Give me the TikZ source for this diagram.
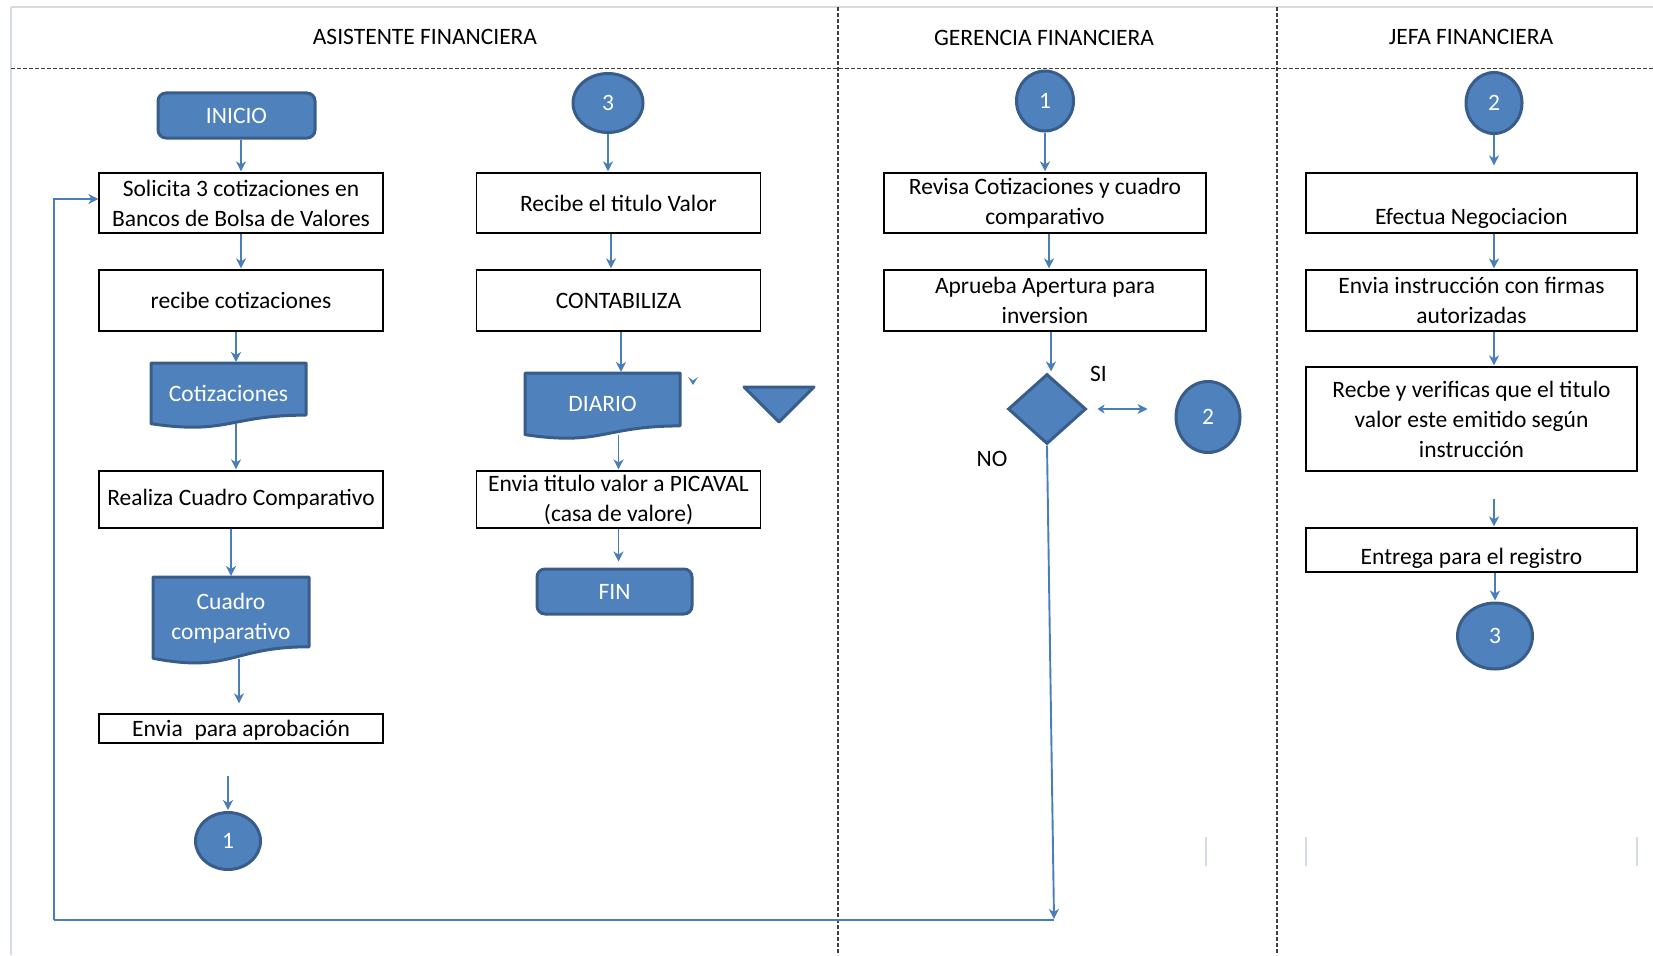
\documentclass[tikz,border=0pt]{standalone}
\usepackage{fontspec}
\setmainfont{Carlito}
\usetikzlibrary{arrows.meta,shapes.geometric,calc}

\definecolor{shapeblue}{HTML}{4F81BD}
\definecolor{shapeedge}{HTML}{385D8A}
\definecolor{linkblue}{HTML}{4A7EBB}
\definecolor{laneline}{HTML}{3F3F3F}
\definecolor{frameline}{HTML}{D3DBE8}
\definecolor{topline}{HTML}{D9D9D9}

% document symbol: flat top, wavy bottom; the named node spans down to the wave
\newcommand\docshape[6]{%
  \draw[docedge] ({#2-#4/2},#3) -- ({#2+#4/2},#3) -- ({#2+#4/2},{#3+0.802*#5})
    .. controls (#2,{#3+0.802*#5}) and (#2,{#3+1.108*#5}) .. ({#2-#4/2},{#3+0.934*#5}) -- cycle;
  \node[doctext, minimum width=#4pt, minimum height={0.933*#5pt}, anchor=north] (#1) at (#2,#3) {#6};
}

\begin{document}
\begin{tikzpicture}[x=1pt,y=-1pt,
  font=\fontsize{23.5}{30}\selectfont,
  lane/.style={laneline, line width=1.4pt, dash pattern=on 4pt off 2pt},
  box/.style={draw=black, line width=1.2pt, fill=white, align=center, inner sep=0pt},
  term/.style={draw=shapeedge, fill=shapeblue, line width=3pt, rounded corners=8pt, text=white, inner sep=0pt},
  conn/.style={ellipse, draw=shapeedge, fill=shapeblue, line width=3pt, text=white, inner sep=0pt},
  docedge/.style={draw=shapeedge, fill=shapeblue, line width=3pt, line join=round},
  doctext/.style={text=white, align=center, inner sep=0pt},
  link/.style={draw=linkblue, line width=1.9pt, shorten >=1pt, -{Stealth[length=10pt,width=10pt,inset=3pt]}},
  loopline/.style={draw=linkblue, line width=2.2pt},
  lowtext/.style={text height=#1, text depth=5pt},
]
\useasboundingbox (0,0) rectangle (1653,955);

% swimlane frame
\draw[topline, line width=1.5pt] (11,7) -- (1653,7);
\draw[frameline, line width=1.5pt] (11,7) -- (11,955);
\draw[lane] (11,68.5) -- (1653,68.5);
\draw[lane] (838,7) -- (838,955);
\draw[lane] (1277,7) -- (1277,955);

\node (hA) at (425,37) {ASISTENTE FINANCIERA};
\node (hG) at (1044,38) {GERENCIA FINANCIERA};
\node (hJ) at (1471,37) {JEFA FINANCIERA};

% ---- Asistente financiera, first column
\node[term, minimum width=157pt, minimum height=45pt] (inicio) at (236.5,115.5) {INICIO};
\node[box, minimum width=284pt, minimum height=60pt] (b1) at (241,203) {Solicita 3 cotizaciones en\\Bancos de Bolsa de Valores};
\node[box, minimum width=284pt, minimum height=61pt] (b2) at (241,300.5) {recibe cotizaciones};
\docshape{cot}{228.5}{363}{155}{65}{Cotizaciones}
\node[box, minimum width=284pt, minimum height=57pt] (b3) at (241,499.5) {Realiza Cuadro Comparativo};
\docshape{cua}{231}{577}{156}{87}{Cuadro\\comparativo}
\node[box, minimum width=284pt, minimum height=29pt, lowtext=20pt] (b4) at (241,728.5) {Envia\enspace para aprobación};
\node[conn, minimum width=65pt, minimum height=57pt] (c1a) at (228,841) {1};

% ---- Asistente financiera, second column
\node[conn, minimum width=70pt, minimum height=59pt] (c3a) at (608,103) {3};
\node[box, minimum width=284pt, minimum height=60pt] (r1) at (618.5,203) {Recibe el titulo Valor};
\node[box, minimum width=284pt, minimum height=61pt] (r2) at (618.5,300.5) {CONTABILIZA};
\docshape{diario}{602.5}{373}{155}{66}{DIARIO}
\node[box, minimum width=284pt, minimum height=57pt] (r3) at (618.5,499.5) {Envia titulo valor a PICAVAL\\(casa de valore)};
\node[term, minimum width=155pt, minimum height=45pt] (fin) at (614.5,591.5) {FIN};
\fill[linkblue] (688,377) -- (693,385) -- (698,377) -- (693,380.5) -- cycle;
\draw[docedge] (744,387) -- (814,387) -- (779,422) -- cycle;

% ---- Gerencia financiera
\node[conn, minimum width=57pt, minimum height=60pt] (c1b) at (1045,101) {1};
\node[box, minimum width=322pt, minimum height=60pt] (g1) at (1045,203) {Revisa Cotizaciones y cuadro\\comparativo};
\node[box, minimum width=322pt, minimum height=61pt] (g2) at (1045,300.5) {Aprueba Apertura para\\inversion};
\node[diamond, draw=shapeedge, fill=shapeblue, line width=3pt, minimum width=78pt, minimum height=70pt, inner sep=0pt] (dec) at (1047,409) {};
\node (si) at (1098.5,374) {SI};
\node (no) at (992,459) {NO};
\node[conn, minimum width=64pt, minimum height=71pt] (c2a) at (1208,417) {2};

% ---- Jefa financiera
\node[conn, minimum width=56pt, minimum height=61pt] (c2b) at (1494,103) {2};
\node[box, minimum width=331pt, minimum height=60pt, lowtext=48pt] (j1) at (1471.5,203) {Efectua Negociacion};
\node[box, minimum width=331pt, minimum height=61pt] (j2) at (1471.5,300.5) {Envia instrucción con firmas\\autorizadas};
\node[box, minimum width=331pt, minimum height=104pt] (j3) at (1471.5,419) {Recbe y verificas que el titulo\\valor este emitido según\\instrucción};
\node[box, minimum width=331pt, minimum height=44pt, lowtext=34pt] (j4) at (1471.5,550) {Entrega para el registro};
\node[conn, minimum width=75pt, minimum height=66pt] (c3b) at (1495,636) {3};

% faint leftover rules near the bottom
\draw[frameline, line width=1.2pt] (1206,837) -- (1206,866);
\draw[frameline, line width=1.2pt] (1306,837) -- (1306,866);
\draw[frameline, line width=1.2pt] (1637,837) -- (1637,866);

% ---- connectors, first column
\draw[link] (inicio.south -| b1.north) -- (b1.north);
\draw[link] (b1.south) -- (b2.north);
\draw[link] ($(b2.south)+(-5,0)$) -- ($(b2.south |- cot.north)+(-5,0)$);
\draw[link] ($(cot.south)+(7.5,0)$) -- ($(cot.south |- b3.north)+(7.5,0)$);
\draw[link] (b3.south -| cua.north) -- (cua.north);
\draw[link, shorten >=10pt] ($(cua.south)+(8,0)$) -- ($(cua.south |- b4.north)+(8,0)$);
\draw[link, shorten <=32pt] (b4.south -| c1a.north) -- (c1a.north);

% ---- connectors, second column
\draw[link] (c3a.south) -- (c3a.south |- r1.north);
\draw[link] ($(r1.south)+(-7.5,0)$) -- ($(r2.north)+(-7.5,0)$);
\draw[link] ($(r2.south)+(2.5,0)$) -- ($(r2.south |- diario.north)+(2.5,0)$);
\draw[link] (diario.south -| r3.north) -- (r3.north);
\draw[link, shorten >=6pt] (r3.south) -- (r3.south |- fin.north);

% ---- connectors, gerencia
\draw[link] (c1b.south) -- (c1b.south |- g1.north);
\draw[link] ($(g1.south)+(4,0)$) -- ($(g2.north)+(4,0)$);
\draw[link] ($(g2.south)+(6,0)$) -- ($(g2.south |- dec.north)+(6,0)$);
\draw[link, {Stealth[length=7pt,width=9pt,inset=2pt]}-{Stealth[length=10pt,width=10pt,inset=3pt]}, shorten <=10pt, shorten >=27pt] (dec.east) -- (dec.east -| c2a.west);
\coordinate (nofoot) at (1054,919);
\coordinate (loopcorner) at (1054,920);
\coordinate (leftcorner) at (54,920);
\draw[link, shorten >=0pt] (dec.south) -- (nofoot);
\draw[loopline] (loopcorner) -- (leftcorner);
\draw[link, shorten >=0pt] (leftcorner) |- ([yshift=4pt]b1.west);

% ---- connectors, jefa
\draw[link, shorten >=7pt] (c2b.south) -- (c2b.south |- j1.north);
\draw[link] (j1.south -| c2b.south) -- (j2.north -| c2b.south);
\draw[link] (j2.south -| c2b.south) -- (j3.north -| c2b.south);
\draw[link, shorten <=27pt] (j3.south -| c2b.south) -- (j4.north -| c2b.south);
\draw[link] (j4.south -| c3b.north) -- (c3b.north);
\end{tikzpicture}
\end{document}
